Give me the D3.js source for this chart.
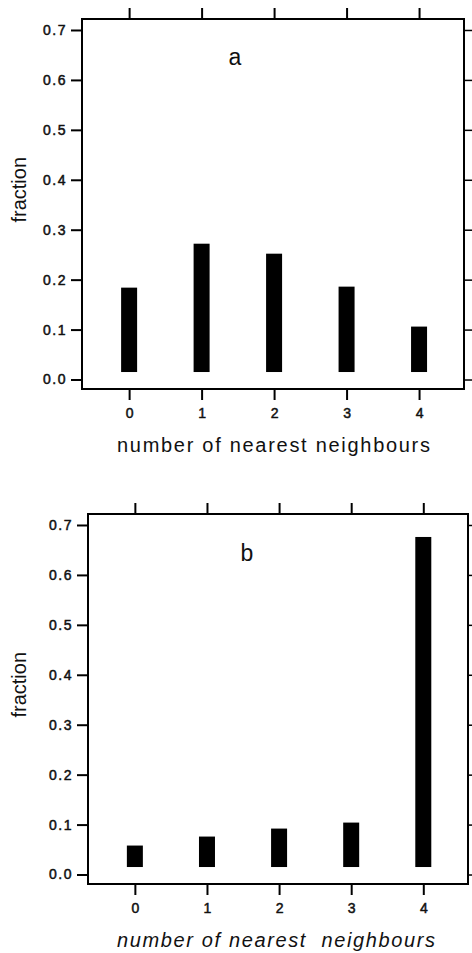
<!DOCTYPE html>
<html>
<head>
<meta charset="utf-8">
<script src="https://cdn.jsdelivr.net/npm/d3@7"></script>
<style>
  body { margin: 0; background: #fff; }
  svg { display: block; }
  text { font-family: "Liberation Sans", Arial, Helvetica, sans-serif; fill: #111; }
</style>
</head>
<body>
<div id="chart"></div>
<script>
// data
var neighbours = [0, 1, 2, 3, 4];
var fractionA = [0.184, 0.272, 0.252, 0.186, 0.106];
var fractionB = [0.058, 0.076, 0.092, 0.104, 0.676];
var yTickValues = [0, 0.1, 0.2, 0.3, 0.4, 0.5, 0.6, 0.7];
var barBase = 0.015;   // bars start slightly above zero in the original

var svg = d3.select("#chart")
  .append("svg")
  .attr("width", 472)
  .attr("height", 953);

drawPanel({
  data: fractionA, letter: "a", italicTitle: false,
  title: "number of nearest neighbours",
  left: 82, top: 19, width: 382, height: 370,
  letterPos: [235, 65], titleY: 452, titleX: [117, 430]
});
drawPanel({
  data: fractionB, letter: "b", italicTitle: true,
  title: "number of nearest\u00a0 neighbours",
  left: 88, top: 514, width: 380, height: 370,
  letterPos: [247, 561], titleY: 947, titleX: [117, 435]
});

function drawPanel(cfg) {
  var x = d3.scaleLinear()
    .domain([-0.65, 4.62])
    .range([0, cfg.width]);
  var y = d3.scaleLinear()
    .domain([-0.019, 0.722])
    .range([cfg.height, 0]);

  var g = svg.append("g")
    .attr("transform", "translate(" + cfg.left + "," + cfg.top + ")");

  // bars
  g.selectAll("rect.bar")
    .data(cfg.data)
    .enter().append("rect")
      .attr("class", "bar")
      .attr("x", function(d, i) { return x(neighbours[i]) - 8; })
      .attr("width", 16)
      .attr("y", function(d) { return y(d); })
      .attr("height", function(d) { return y(barBase) - y(d); })
      .attr("fill", "#000");

  // frame
  g.append("rect")
    .attr("width", cfg.width)
    .attr("height", cfg.height)
    .attr("fill", "none")
    .attr("stroke", "#000")
    .attr("stroke-width", 2);

  // left axis with labels
  var yAxis = g.append("g")
    .call(d3.axisLeft(y).tickValues(yTickValues).tickSize(11).tickPadding(4)
      .tickFormat(d3.format(".1f")));
  yAxis.select(".domain").remove();
  yAxis.selectAll("line").attr("stroke-width", 2);
  yAxis.selectAll("text")
    .attr("font-size", 14)
    .style("letter-spacing", "1.5px")
    .attr("stroke", "#111").attr("stroke-width", 0.5);

  // right axis, ticks only
  var yRight = g.append("g")
    .attr("transform", "translate(" + cfg.width + ",0)")
    .call(d3.axisRight(y).tickValues(yTickValues).tickSize(9).tickFormat(""));
  yRight.select(".domain").remove();
  yRight.selectAll("line").attr("stroke-width", 1.5);

  // bottom axis
  var xAxis = g.append("g")
    .attr("transform", "translate(0," + cfg.height + ")")
    .call(d3.axisBottom(x).tickValues(neighbours).tickSize(11).tickPadding(8)
      .tickFormat(d3.format("d")));
  xAxis.select(".domain").remove();
  xAxis.selectAll("line").attr("stroke-width", 2);
  xAxis.selectAll("text")
    .attr("font-size", 14)
    .attr("stroke", "#111").attr("stroke-width", 0.5);

  // top axis, ticks only
  var xTop = g.append("g")
    .call(d3.axisTop(x).tickValues(neighbours).tickSize(11).tickFormat(""));
  xTop.select(".domain").remove();
  xTop.selectAll("line").attr("stroke-width", 2);

  // panel letter
  svg.append("text")
    .attr("x", cfg.letterPos[0])
    .attr("y", cfg.letterPos[1])
    .attr("text-anchor", "middle")
    .attr("font-size", 23)
    .text(cfg.letter);

  // x title
  svg.append("text")
    .attr("x", cfg.titleX[0])
    .attr("y", cfg.titleY)
    .attr("textLength", cfg.titleX[1] - cfg.titleX[0])
    .attr("lengthAdjust", "spacing")
    .attr("font-size", 20)
    .style("font-style", cfg.italicTitle ? "italic" : "normal")
    .text(cfg.title);

  // y title
  svg.append("text")
    .attr("transform", "translate(26," + (cfg.top + y(0.38)) + ") rotate(-90)")
    .attr("text-anchor", "middle")
    .attr("font-size", 20)
    .text("fraction");
}
</script>
</body>
</html>
